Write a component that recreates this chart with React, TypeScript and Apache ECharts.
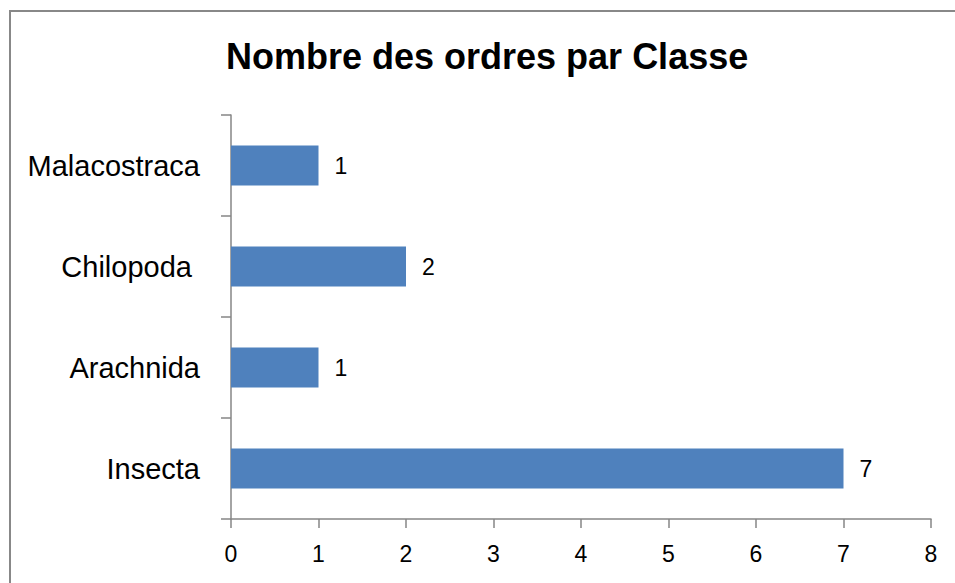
import React, { useEffect, useRef } from "react";
import * as echarts from "echarts";

const categories = ["Insecta", "Arachnida", "Chilopoda ", "Malacostraca"];
const values = [7, 1, 2, 1];
const titleText = "Nombre des ordres par Classe";
const FONT = "'Liberation Sans', Arial, sans-serif";

export default function App() {
  const ref = useRef<HTMLDivElement>(null);
  useEffect(() => {
    if (!ref.current) return;
    const chart = echarts.init(ref.current, undefined, { renderer: "svg" });
    chart.setOption({
      animation: false,
      backgroundColor: "#ffffff",
      title: {
        text: titleText,
        left: 221,
        top: 33,
        textStyle: { fontFamily: FONT, fontSize: 36, fontWeight: "bold", color: "#000" },
      },
      graphic: [
        {
          type: "rect",
          shape: { x: 10, y: 11, width: 1000, height: 1000 },
          style: { fill: "none", stroke: "#888888", lineWidth: 2 },
          silent: true,
        },
      ],
      grid: { left: 231, right: 24, top: 115, bottom: 64, containLabel: false },
      xAxis: {
        type: "value",
        min: 0,
        max: 8,
        interval: 1,
        splitLine: { show: false },
        axisLine: { show: true, lineStyle: { color: "#868686", width: 1.5 } },
        axisTick: { show: true, length: 9, lineStyle: { color: "#868686", width: 1.5 } },
        axisLabel: { fontFamily: FONT, fontSize: 23, color: "#000", margin: 23 },
      },
      yAxis: {
        type: "category",
        data: categories,
        axisLine: { show: true, lineStyle: { color: "#868686", width: 1.5 } },
        axisTick: { show: true, length: 10, lineStyle: { color: "#868686", width: 1.5 } },
        axisLabel: { fontFamily: FONT, fontSize: 29, color: "#000", margin: 31 },
      },
      series: [
        {
          type: "bar",
          data: values,
          barWidth: 40,
          itemStyle: { color: "#4f81bd" },
          label: {
            show: true,
            position: "right",
            distance: 16,
            fontFamily: FONT,
            fontSize: 23,
            color: "#000",
          },
        },
      ],
    });
    return () => chart.dispose();
  }, []);
  return (
    <div
      ref={ref}
      style={{ position: "fixed", left: 0, top: 0, width: 955, height: 583, background: "#fff" }}
    />
  );
}
